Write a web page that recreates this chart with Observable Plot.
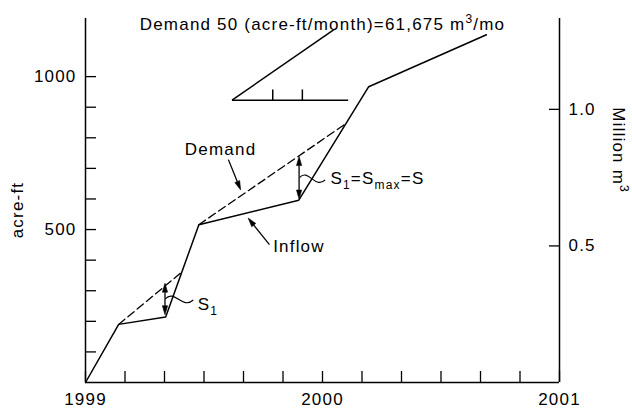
<!DOCTYPE html>
<html>
<head>
<meta charset="utf-8">
<script src="https://cdn.jsdelivr.net/npm/d3@7"></script>
<script src="https://cdn.jsdelivr.net/npm/@observablehq/plot@0.6"></script>
<style>
  html, body { margin: 0; padding: 0; background: #fff; }
</style>
</head>
<body>
<div id="chart"></div>
<script>
// ---- data (x: months from start of record, y: acre-ft) ----
const inflowMonths  = [0, 0.84, 2.03, 2.87, 5.40, 7.17, 10.15];
const inflowAcreFt  = [0, 190, 214, 516, 596, 967, 1137];

const demandSeg1Months = [0.84, 2.43];
const demandSeg1AcreFt = [190, 360];
const demandSeg2Months = [2.87, 6.61];
const demandSeg2AcreFt = [516, 848];

const monthTicks = [0, 1, 2, 3, 4, 5, 6, 7, 8, 9, 10, 11, 12];
const yearTickMonths = [0, 6, 12];
const yearTickLabels = ["1999", "2000", "2001"];
const acreFtMinorTicks = [100, 200, 300, 400, 500, 600, 700, 800, 900, 1000];
const acreFtLabelTicks = [500, 1000];
const millionM3Ticks = [0.5, 1.0];
const acreFtPerMillionM3 = 893;   // as drawn on the right-hand axis

// slope triangle (demand 50 acre-ft/month)
const triBaseMonths = [3.71, 6.65];
const triBaseAcreFt = [923, 923];
const triHypMonths  = [3.71, 6.29];
const triHypAcreFt  = [923, 1154];
const triTickMonths = [4.74, 5.49];
const triTickAcreFt = [923, 958];

// annotation arrows
const arrowList = [
  {x1: 3.63, y1: 727, x2: 3.94, y2: 628},   // Demand
  {x1: 4.67, y1: 449, x2: 4.13, y2: 536},   // Inflow
  {x1: 2.025, y1: 272, x2: 2.025, y2: 323}, // S1 (up)
  {x1: 2.025, y1: 272, x2: 2.025, y2: 220}, // S1 (down)
  {x1: 5.42, y1: 668, x2: 5.42, y2: 737},   // Smax (up)
  {x1: 5.42, y1: 668, x2: 5.42, y2: 598}    // Smax (down)
];
const tildeList = [
  {x1: 2.03, y1: 272, x2: 2.74, y2: 268},
  {x1: 5.43, y1: 668, x2: 6.08, y2: 661}
];

const labelTexts  = ["Demand", "Inflow", "S_{1}", "S_{1}=S_{max}=S"];
const labelMonths = [3.42, 4.75, 2.84, 6.20];
const labelAcreFt = [762, 443, 256, 666];
const labelAnchor = ["middle", "start", "start", "start"];

const titleText = "Demand 50 (acre-ft/month)=61,675 m^{3}/mo";
const leftLabel = "acre-ft";
const rightLabel = "Million m^{3}";

// ---- tables ----
const inflow = inflowMonths.map((m, i) => ({m, v: inflowAcreFt[i]}));
const demand = [
  ...demandSeg1Months.map((m, i) => ({m, v: demandSeg1AcreFt[i], seg: 1})),
  ...demandSeg2Months.map((m, i) => ({m, v: demandSeg2AcreFt[i], seg: 2}))
];
const triLinks = [
  {x1: triBaseMonths[0], y1: triBaseAcreFt[0], x2: triBaseMonths[1], y2: triBaseAcreFt[1]},
  {x1: triHypMonths[0], y1: triHypAcreFt[0], x2: triHypMonths[1], y2: triHypAcreFt[1]},
  ...triTickMonths.map(m => ({x1: m, y1: triTickAcreFt[0], x2: m, y2: triTickAcreFt[1]}))
];
const labels = labelTexts.map((t, i) => ({t, m: labelMonths[i], v: labelAcreFt[i], a: labelAnchor[i]}));

const FS = 17;

function arrowMark(list) {
  return (index, scales) => {
    const g = d3.create("svg:g").attr("fill", "black").attr("stroke", "black");
    const L = 9, W = 2.6;
    for (const a of list) {
      const x1 = scales.x(a.x1), y1 = scales.y(a.y1), x2 = scales.x(a.x2), y2 = scales.y(a.y2);
      const dx = x2 - x1, dy = y2 - y1, len = Math.hypot(dx, dy);
      const ux = dx / len, uy = dy / len;
      const bx = x2 - ux * L, by = y2 - uy * L;
      g.append("line").attr("x1", x1).attr("y1", y1).attr("x2", bx).attr("y2", by)
        .attr("stroke-width", 1.3);
      g.append("path")
        .attr("d", `M${x2},${y2}L${bx - uy * W},${by + ux * W}L${bx + uy * W},${by - ux * W}Z`)
        .attr("stroke-width", 0.6);
    }
    return g.node();
  };
}

function tildeMark(list) {
  return (index, scales) => {
    const g = d3.create("svg:g").attr("fill", "none").attr("stroke", "black").attr("stroke-width", 1.2);
    for (const t of list) {
      const x1 = scales.x(t.x1), y1 = scales.y(t.y1), x2 = scales.x(t.x2), y2 = scales.y(t.y2);
      const w = x2 - x1;
      g.append("path").attr("d",
        `M${x1},${y1}C${x1 + 0.35 * w},${y1 - 10} ${x1 + 0.6 * w},${y2 + 10} ${x2},${y2}`);
    }
    return g.node();
  };
}

// rotated axis titles, placed relative to the plot frame
function axisTitles(index, scales, values, dims) {
  const {width, height, marginLeft, marginRight, marginTop, marginBottom} = dims;
  const midY = (marginTop + height - marginBottom) / 2;
  const g = d3.create("svg:g").attr("fill", "#000").attr("font-size", FS).attr("text-anchor", "middle");
  g.append("text")
    .attr("transform", `translate(${marginLeft - 62.5},${midY + 10}) rotate(-90)`)
    .text(leftLabel);
  g.append("text")
    .attr("transform", `translate(${width - marginRight + 54},${midY - 50}) rotate(90)`)
    .text(rightLabel);
  return g.node();
}

const lw = 1.5;
const svg = Plot.plot({
  width: 632,
  height: 410,
  marginLeft: 85,
  marginRight: 73,
  marginTop: 18,
  marginBottom: 28,
  style: {
    fontFamily: "'Liberation Sans', Arial, Helvetica, sans-serif",
    fontSize: FS + "px",
    letterSpacing: "1.2px",
    background: "#fff",
    color: "#000",
    overflow: "visible"
  },
  x: {domain: [0, 12]},
  y: {domain: [0, 1190]},
  marks: [
    // frame lines
    Plot.ruleX([0, 12], {stroke: "#000", strokeWidth: lw}),
    Plot.ruleY([0], {stroke: "#000", strokeWidth: lw}),
    // axes
    Plot.axisX({ticks: monthTicks, tickSize: -11, tickFormat: () => "", label: null, strokeWidth: 1.3}),
    Plot.axisX({ticks: yearTickMonths, tickSize: 0, tickPadding: 10, label: null, fontSize: FS,
      tickFormat: d => yearTickLabels[yearTickMonths.indexOf(d)]}),
    Plot.axisY({anchor: "left", ticks: acreFtMinorTicks, tickSize: -11, tickFormat: () => "", label: null, strokeWidth: 1.3}),
    Plot.axisY({anchor: "left", ticks: acreFtLabelTicks, tickSize: 0, tickPadding: 9, label: null, fontSize: FS,
      tickFormat: d => String(d)}),
    Plot.axisY({anchor: "right", ticks: millionM3Ticks.map(v => v * acreFtPerMillionM3), tickSize: -11,
      tickFormat: () => "", label: null, strokeWidth: 1.3}),
    Plot.axisY({anchor: "right", ticks: millionM3Ticks.map(v => v * acreFtPerMillionM3), tickSize: 0, tickPadding: 9,
      label: null, fontSize: FS, tickFormat: d => (d / acreFtPerMillionM3).toFixed(1)}),
    // data
    Plot.line(demand, {x: "m", y: "v", z: "seg", stroke: "#000", strokeWidth: 1.3, strokeDasharray: "8,4"}),
    Plot.line(inflow, {x: "m", y: "v", stroke: "#000", strokeWidth: lw}),
    // slope triangle
    Plot.link(triLinks, {x1: "x1", y1: "y1", x2: "x2", y2: "y2", stroke: "#000", strokeWidth: lw}),
    // annotations
    arrowMark(arrowList),
    tildeMark(tildeList),
    Plot.text(labels.filter(d => d.a === "middle"), {x: "m", y: "v", text: "t", textAnchor: "middle", fontSize: FS, fill: "#000"}),
    Plot.text(labels.filter(d => d.a === "start"), {x: "m", y: "v", text: "t", textAnchor: "start", fontSize: FS, fill: "#000"}),
    // title and axis titles
    Plot.text([titleText], {frameAnchor: "top", dy: -1, fontSize: FS, fill: "#000"}),
    axisTitles
  ]
});

// turn _{..} and ^{..} into real sub/superscript tspans
d3.select(svg).selectAll("text").each(function () {
  const s = this.textContent;
  if (!/[_^]\{/.test(s)) return;
  const el = d3.select(this);
  el.text(null);
  const re = /([_^])\{([^}]*)\}/g;
  let last = 0, m, shift = 0;
  const add = (txt, mode) => {
    if (!txt) return;
    const ts = el.append("tspan").text(txt);
    const target = mode === "_" ? 5 : mode === "^" ? -7 : 0;
    if (target !== shift) ts.attr("dy", target - shift);
    shift = target;
    if (mode) ts.attr("font-size", 12);
  };
  while ((m = re.exec(s))) {
    add(s.slice(last, m.index), null);
    add(m[2], m[1]);
    last = re.lastIndex;
  }
  add(s.slice(last), null);
});

document.getElementById("chart").appendChild(svg);
</script>
</body>
</html>
